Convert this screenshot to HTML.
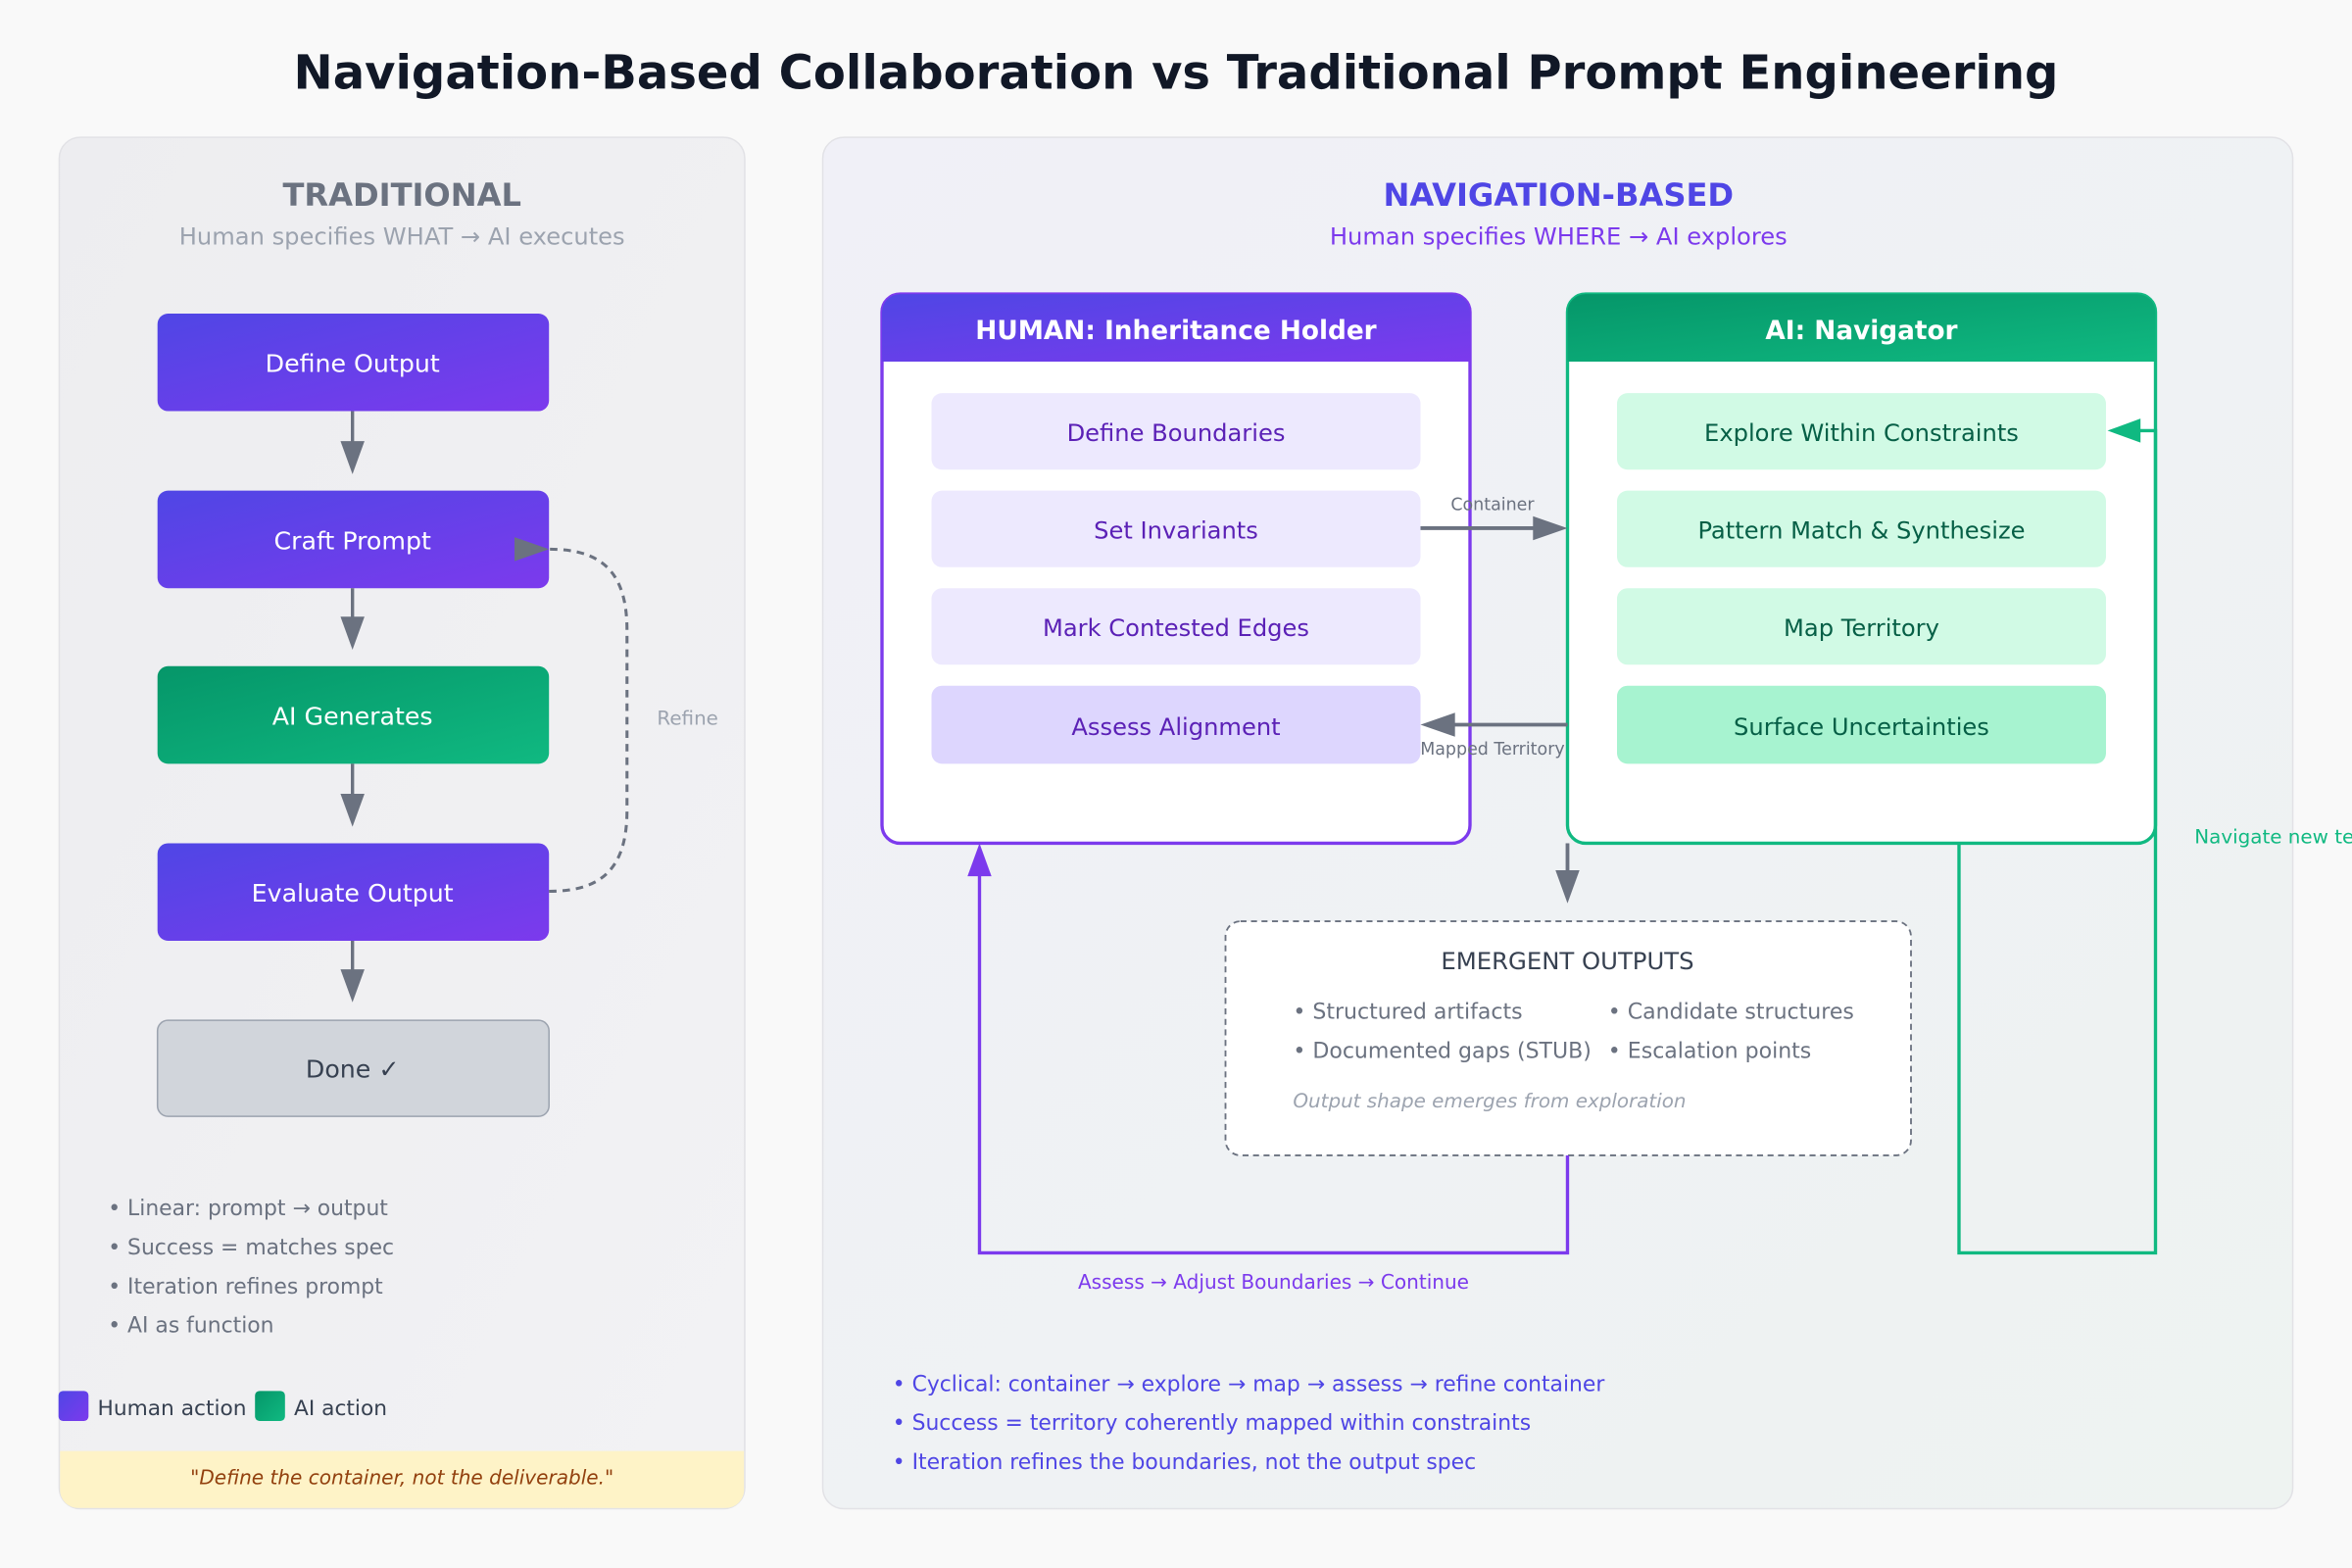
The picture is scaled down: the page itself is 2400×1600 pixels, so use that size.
<!DOCTYPE html>
<html><head><meta charset="utf-8"><style>
html,body{margin:0;padding:0;background:#f9f9f9;overflow:hidden}
svg{display:block;font-family:"DejaVu Sans","Liberation Sans",sans-serif}
</style></head><body>
<svg width="2400" height="1600" viewBox="0 0 1568 1045" preserveAspectRatio="none" xmlns="http://www.w3.org/2000/svg">
<defs>
<linearGradient id="gp" x1="0" y1="0" x2="1" y2="1"><stop offset="0" stop-color="#4f46e5"/><stop offset="1" stop-color="#7c3aed"/></linearGradient>
<linearGradient id="gg" x1="0" y1="0" x2="1" y2="1"><stop offset="0" stop-color="#059669"/><stop offset="1" stop-color="#10b981"/></linearGradient>
<linearGradient id="bgL" x1="0" y1="0" x2="1" y2="1"><stop offset="0" stop-color="#ededf0"/><stop offset="1" stop-color="#f2f2f4"/></linearGradient>
<linearGradient id="bgR" x1="0" y1="0" x2="1" y2="1"><stop offset="0" stop-color="#f0f0f7"/><stop offset="1" stop-color="#eef3f1"/></linearGradient>
</defs>
<rect width="1568" height="1045" fill="#f9f9f9"/>
<text x="784" y="59" text-anchor="middle" font-size="31.4" font-weight="bold" fill="#111827">Navigation-Based Collaboration vs Traditional Prompt Engineering</text>

<!-- left panel -->
<rect x="39.5" y="91.5" width="457" height="914" rx="14" fill="url(#bgL)" stroke="#e2e2e6"/>
<text x="268" y="137" text-anchor="middle" font-size="21" font-weight="bold" fill="#6b7280">TRADITIONAL</text>
<text x="268" y="163" text-anchor="middle" font-size="15.8" fill="#9ca3af">Human specifies WHAT → AI executes</text>

<rect x="105" y="209" width="261" height="65" rx="7" fill="url(#gp)"/>
<text x="235" y="248" text-anchor="middle" font-size="16.5" fill="#fff">Define Output</text>
<rect x="105" y="327" width="261" height="65" rx="7" fill="url(#gp)"/>
<text x="235" y="366" text-anchor="middle" font-size="16.5" fill="#fff">Craft Prompt</text>
<rect x="105" y="444" width="261" height="65" rx="7" fill="url(#gg)"/>
<text x="235" y="483" text-anchor="middle" font-size="16.5" fill="#fff">AI Generates</text>
<rect x="105" y="562" width="261" height="65" rx="7" fill="url(#gp)"/>
<text x="235" y="601" text-anchor="middle" font-size="16.5" fill="#fff">Evaluate Output</text>
<rect x="105" y="680" width="261" height="64" rx="7" fill="#d1d5db" stroke="#9ca3af"/>
<text x="235" y="718" text-anchor="middle" font-size="16.5" fill="#374151">Done ✓</text>

<g fill="#6b7280" stroke="#6b7280" stroke-width="2.2">
<line x1="235" y1="274" x2="235" y2="295"/><path d="M227,294L243,294L235,316z" stroke="none"/>
<line x1="235" y1="392" x2="235" y2="412"/><path d="M227,411L243,411L235,433z" stroke="none"/>
<line x1="235" y1="509" x2="235" y2="530"/><path d="M227,529L243,529L235,551z" stroke="none"/>
<line x1="235" y1="627" x2="235" y2="647"/><path d="M227,646L243,646L235,668z" stroke="none"/>
</g>
<path d="M366,594 C400,594 418,580 418,540 L418,420 C418,380 400,366 366,366" fill="none" stroke="#6b7280" stroke-width="2" stroke-dasharray="5,4"/>
<path d="M343,358L366,366L343,374z" fill="#6b7280"/>
<text x="438" y="483" font-size="13" fill="#9ca3af">Refine</text>

<g font-size="14.3" fill="#6b7280">
<text x="72" y="810">• Linear: prompt → output</text>
<text x="72" y="836">• Success = matches spec</text>
<text x="72" y="862">• Iteration refines prompt</text>
<text x="72" y="888">• AI as function</text>
</g>
<rect x="39" y="927" width="20" height="20" rx="3" fill="url(#gp)"/>
<text x="65" y="943" font-size="14.2" fill="#374151">Human action</text>
<rect x="170" y="927" width="20" height="20" rx="3" fill="url(#gg)"/>
<text x="196" y="943" font-size="14.2" fill="#374151">AI action</text>
<path d="M40,967H496V993a12,12 0 0 1 -12,12H52a12,12 0 0 1 -12,-12z" fill="#fef3c7"/>
<text x="268" y="989" text-anchor="middle" font-size="13.1" font-style="italic" fill="#92400e">"Define the container, not the deliverable."</text>

<!-- right panel -->
<rect x="548.5" y="91.5" width="980" height="914" rx="14" fill="url(#bgR)" stroke="#e2e2e6"/>
<text x="1039" y="137" text-anchor="middle" font-size="21" font-weight="bold" fill="#4f46e5">NAVIGATION-BASED</text>
<text x="1039" y="163" text-anchor="middle" font-size="15.8" fill="#7c3aed">Human specifies WHERE → AI explores</text>

<!-- human box -->
<rect x="588" y="196" width="392" height="366" rx="12" fill="#fff" stroke="#7c3aed" stroke-width="2.2"/>
<path d="M588,241V208a12,12 0 0 1 12,-12H968a12,12 0 0 1 12,12V241z" fill="url(#gp)"/>
<text x="784" y="226" text-anchor="middle" font-size="17.2" font-weight="bold" fill="#fff">HUMAN: Inheritance Holder</text>
<g font-size="15.8" fill="#5b21b6" text-anchor="middle">
<rect x="621" y="262" width="326" height="51" rx="7" fill="#ede9fe"/><text x="784" y="294">Define Boundaries</text>
<rect x="621" y="327" width="326" height="51" rx="7" fill="#ede9fe"/><text x="784" y="359">Set Invariants</text>
<rect x="621" y="392" width="326" height="51" rx="7" fill="#ede9fe"/><text x="784" y="424">Mark Contested Edges</text>
<rect x="621" y="457" width="326" height="52" rx="7" fill="#ddd6fe"/><text x="784" y="490">Assess Alignment</text>
</g>

<!-- ai box -->
<rect x="1045" y="196" width="392" height="366" rx="12" fill="#fff" stroke="#10b981" stroke-width="2.2"/>
<path d="M1045,241V208a12,12 0 0 1 12,-12H1425a12,12 0 0 1 12,12V241z" fill="url(#gg)"/>
<text x="1241" y="226" text-anchor="middle" font-size="17.2" font-weight="bold" fill="#fff">AI: Navigator</text>
<g font-size="15.8" fill="#065f46" text-anchor="middle">
<rect x="1078" y="262" width="326" height="51" rx="7" fill="#d1fae5"/><text x="1241" y="294">Explore Within Constraints</text>
<rect x="1078" y="327" width="326" height="51" rx="7" fill="#d1fae5"/><text x="1241" y="359">Pattern Match &amp; Synthesize</text>
<rect x="1078" y="392" width="326" height="51" rx="7" fill="#d1fae5"/><text x="1241" y="424">Map Territory</text>
<rect x="1078" y="457" width="326" height="52" rx="7" fill="#a7f3d0"/><text x="1241" y="490">Surface Uncertainties</text>
</g>

<!-- arrows between -->
<line x1="947" y1="352" x2="1024" y2="352" stroke="#6b7280" stroke-width="2.5"/>
<path d="M1022,344L1045,352L1022,360z" fill="#6b7280"/>
<text x="995" y="340" text-anchor="middle" font-size="11.4" fill="#6b7280">Container</text>
<line x1="1045" y1="483" x2="968" y2="483" stroke="#6b7280" stroke-width="2.5"/>
<path d="M970,475L947,483L970,491z" fill="#6b7280"/>
<text x="995" y="503" text-anchor="middle" font-size="11.4" fill="#6b7280">Mapped Territory</text>

<line x1="1045" y1="562" x2="1045" y2="582" stroke="#6b7280" stroke-width="2.5"/>
<path d="M1037,580L1053,580L1045,602z" fill="#6b7280"/>

<!-- emergent -->
<rect x="817" y="614" width="457" height="156" rx="10" fill="#fff" stroke="#6b7280" stroke-width="1.2" stroke-dasharray="4,3"/>
<text x="1045" y="646" text-anchor="middle" font-size="15.9" fill="#374151">EMERGENT OUTPUTS</text>
<g font-size="14.4" fill="#6b7280">
<text x="862" y="679">• Structured artifacts</text>
<text x="1072" y="679">• Candidate structures</text>
<text x="862" y="705">• Documented gaps (STUB)</text>
<text x="1072" y="705">• Escalation points</text>
</g>
<text x="862" y="738" font-size="13" font-style="italic" fill="#9ca3af">Output shape emerges from exploration</text>

<!-- purple loop -->
<path d="M1045,770V835H653V582" fill="none" stroke="#7c3aed" stroke-width="2.2"/>
<path d="M645,584L661,584L653,562z" fill="#7c3aed"/>
<text x="849" y="859" text-anchor="middle" font-size="13.1" fill="#7c3aed">Assess → Adjust Boundaries → Continue</text>

<!-- green loop -->
<path d="M1306,562V835H1437V287H1425" fill="none" stroke="#10b981" stroke-width="2.2"/>
<path d="M1427,279L1405,287L1427,295z" fill="#10b981"/>
<text x="1463" y="562" font-size="13" fill="#10b981">Navigate new territory</text>

<g font-size="14.3" fill="#4f46e5">
<text x="595" y="927">• Cyclical: container → explore → map → assess → refine container</text>
<text x="595" y="953">• Success = territory coherently mapped within constraints</text>
<text x="595" y="979">• Iteration refines the boundaries, not the output spec</text>
</g>
</svg>
</body></html>
